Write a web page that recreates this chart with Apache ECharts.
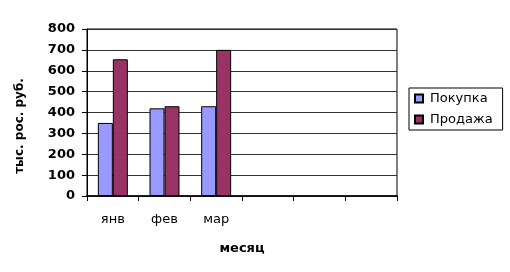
<!DOCTYPE html>
<html><head><meta charset="utf-8">
<script src="https://cdn.jsdelivr.net/npm/echarts@6/dist/echarts.min.js"></script>
<style>html,body{margin:0;padding:0;background:#fff}#c{width:510px;height:272px}</style>
</head><body><div id="c"></div>
<script>
var categories = ['янв', 'фев', 'мар', '', '', ''];
var purchase = [350, 420, 430];
var sales = [655, 430, 700];
var seriesNames = ['Покупка', 'Продажа'];
var yTicks = {min: 0, max: 800, interval: 100};

var chart = echarts.init(document.getElementById('c'), null, {renderer: 'canvas'});
var font = 'DejaVu Sans';
chart.setOption({
  animation: false,
  backgroundColor: '#fff',
  grid: {left: 87, right: 113, top: 29, bottom: 76, show: true, backgroundColor: '#fff', borderColor: '#000', borderWidth: 1},
  legend: {
    orient: 'vertical', left: 409, top: 88,
    borderColor: '#000', borderWidth: 1, padding: [4, 10, 4, 5],
    itemWidth: 8, itemHeight: 8, itemGap: 8, icon: 'rect',
    textStyle: {fontFamily: font, fontSize: 13, color: '#000', padding: [0, 0, 0, 2]},
    data: seriesNames
  },
  xAxis: {
    type: 'category', data: categories,
    name: 'месяц', nameLocation: 'middle', nameGap: 46,
    nameTextStyle: {fontFamily: font, fontSize: 13, fontWeight: 'bold', color: '#000'},
    axisLine: {lineStyle: {color: '#000', width: 1.5}},
    axisTick: {show: true, length: 5, lineStyle: {color: '#000'}},
    axisLabel: {fontFamily: font, fontSize: 13, color: '#000', margin: 17}
  },
  yAxis: {
    type: 'value', min: yTicks.min, max: yTicks.max, interval: yTicks.interval,
    axisLine: {show: true, lineStyle: {color: '#000', width: 1}},
    axisTick: {show: true, length: 5, lineStyle: {color: '#000'}},
    axisLabel: {fontFamily: font, fontSize: 13, fontWeight: 'bold', color: '#000', margin: 12},
    splitLine: {show: true, lineStyle: {color: '#333', width: 1}}
  },
  graphic: [{
    type: 'text', x: 20, y: 126, rotation: Math.PI / 2,
    style: {text: 'тыс. рос. руб.', fontFamily: font, fontSize: 12, fontWeight: 'bold', fill: '#000', align: 'center', verticalAlign: 'middle'}
  }],
  series: [
    {name: seriesNames[0], type: 'bar', data: purchase, barGap: '0%', barCategoryGap: '42%',
     itemStyle: {color: '#9999FF', borderColor: '#000', borderWidth: 1}},
    {name: seriesNames[1], type: 'bar', data: sales,
     itemStyle: {color: '#993366', borderColor: '#000', borderWidth: 1}}
  ]
});
</script></body></html>
